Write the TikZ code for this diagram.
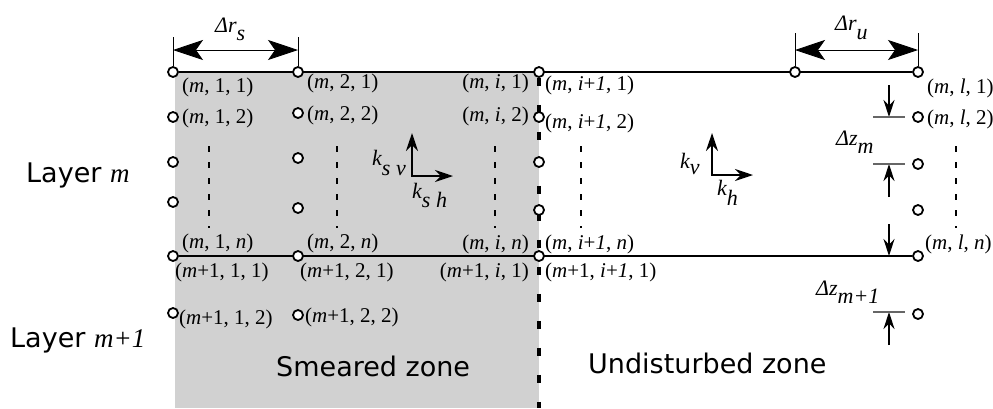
\documentclass[tikz,border=0pt]{standalone}
\usepackage{fontspec}
\setmainfont{Liberation Serif}
\newfontfamily\zonefont{DejaVu Sans}
\usetikzlibrary{arrows.meta, positioning, calc, backgrounds}

\newcommand{\mi}[1]{\textit{#1}}

\begin{document}
\begin{tikzpicture}[x=1pt, y=-1pt,
    gp/.style={circle, draw, fill=white, line width=1.8pt, minimum size=10pt, inner sep=0pt},
    lbl/.style={inner sep=0pt, font=\fontsize{21}{24}\selectfont},
    zone/.style={inner sep=0pt, anchor=base west, font=\fontsize{27}{32}\selectfont\zonefont},
    sym/.style={inner sep=0pt, anchor=base west, font=\fontsize{22}{24}\selectfont\itshape},
    bound/.style={line width=4pt, dash pattern=on 8pt off 19pt},
    vdots/.style={line width=2.2pt, dash pattern=on 6pt off 10pt},
    dimr/.style={line width=0.8pt, {Stealth[length=30pt, width=20pt, inset=7pt]}-{Stealth[length=30pt, width=20pt, inset=7pt]}},
    dimz/.style={line width=1.2pt, -{Stealth[length=17pt, width=11pt]}},
    ztick/.style={line width=1.5pt, black!60},
    kar/.style={line width=2.2pt, {Stealth[length=18pt, width=12pt]}-{Stealth[length=18pt, width=12pt]}}]
    \useasboundingbox (0,0) rectangle (993,408);

    \foreach \n/\x/\y in {a11/173/72, a12/173/117, a13/173/162, a14/173/202, a1n/173/256, b12/173/313,
        a21/298/72, a22/298/113, a23/298/158, a24/298/208, a2n/298/256, b22/298/315,
        ai1/539/72, ai2/539/117, ai3/539/162, ai4/539/210, ain/539/256,
        au/795/72,
        al1/918/72, al2/918/117, al3/918/164, al4/918/210, aln/918/256, bl2/918/314}
        \node[gp] (\n) at (\x,\y) {};

    \coordinate (zb) at (539,408);
    \begin{scope}[on background layer]
        \fill[black!18] (175,72) rectangle (zb);
        \draw[line width=2pt] (a11) -- (al1);
        \draw[line width=2pt] (a1n) -- (aln);
        \draw[bound] (ai1) -- (zb);
    \end{scope}

    \foreach \n/\x in {d1/209, d2/337, di/495, dj/581, dl/956} {
        \coordinate (\n-t) at (\x,146);
        \coordinate (\n-b) at (\x,228);
        \draw[vdots] (\n-t) -- (\n-b);
    }

    \node[lbl, anchor=west] (t11) at (182,87) {(\mi{m}, 1, 1)};
    \node[lbl, anchor=west] (t21) at (307,83) {(\mi{m}, 2, 1)};
    \node[lbl, anchor=east] (ti1) at (529,83) {(\mi{m}, \mi{i}, 1)};
    \node[lbl, anchor=west] (tj1) at (545,85) {(\mi{m}, \mi{i}+\mi{1}, 1)};
    \node[lbl, anchor=west] (tl1) at (927,88) {(\mi{m}, \mi{l}, 1)};
    \node[lbl, anchor=west] (t12) at (182,118) {(\mi{m}, 1, 2)};
    \node[lbl, anchor=west] (t22) at (307,115) {(\mi{m}, 2, 2)};
    \node[lbl, anchor=east] (ti2) at (529,116) {(\mi{m}, \mi{i}, 2)};
    \node[lbl, anchor=west] (tj2) at (545,123) {(\mi{m}, \mi{i}+\mi{1}, 2)};
    \node[lbl, anchor=west] (tl2) at (927,119) {(\mi{m}, \mi{l}, 2)};
    \node[lbl, anchor=west] (t1n) at (182,243) {(\mi{m}, 1, \mi{n})};
    \node[lbl, anchor=west] (t2n) at (307,243) {(\mi{m}, 2, \mi{n})};
    \node[lbl, anchor=east] (tin) at (529,244) {(\mi{m}, \mi{i}, \mi{n})};
    \node[lbl, anchor=west] (tjn) at (545,244) {(\mi{m}, \mi{i}+\mi{1}, \mi{n})};
    \node[lbl, anchor=west] (tln) at (925,244) {(\mi{m}, \mi{l}, \mi{n})};
    \node[lbl, anchor=west] (u11) at (175,272) {(\mi{m}+1, 1, 1)};
    \node[lbl, anchor=west] (u21) at (300,272) {(\mi{m}+1, 2, 1)};
    \node[lbl, anchor=east] (ui1) at (529,272) {(\mi{m}+1, \mi{i}, 1)};
    \node[lbl, anchor=west] (uj1) at (545,272) {(\mi{m}+1, \mi{i}+\mi{1}, 1)};
    \node[lbl, anchor=west] (u12) at (179,319) {(\mi{m}+1, 1, 2)};
    \node[lbl, anchor=west] (u22) at (305,317) {(\mi{m}+1, 2, 2)};

    \node[zone] (laym) at (26,182) {Layer {\fontsize{27}{32}\selectfont\rmfamily\itshape m}};
    \node[zone] (layn) at (10,347) {Layer {\fontsize{27}{32}\selectfont\rmfamily\itshape m+1}};
    \node[zone] (smear) at (276,376) {Smeared zone};
    \node[zone] (undist) at (588,373) {Undisturbed zone};

    \coordinate (rs1) at (173,37);
    \coordinate (rs2) at (298,37);
    \coordinate (rsa) at (173,50);
    \coordinate (rsb) at (298,50);
    \draw[line width=0.8pt] (a11) -- (rs1);
    \draw[line width=0.8pt] (a21) -- (rs2);
    \draw[dimr] (rsa) -- (rsb);
    \node[sym] (drs) at (215,32) {Δr\raisebox{-8pt}{s}};

    \coordinate (ru1) at (795,33);
    \coordinate (ru2) at (918,33);
    \coordinate (rua) at (795,50);
    \coordinate (rub) at (918,50);
    \draw[line width=0.8pt] (au) -- (ru1);
    \draw[line width=0.8pt] (al1) -- (ru2);
    \draw[dimr] (rua) -- (rub);
    \node[sym] (dru) at (835,30) {Δr\raisebox{-9pt}{u}};

    \coordinate (zt1) at (889,85);   \coordinate (zh1) at (889,117);
    \coordinate (zt2) at (889,197);  \coordinate (zh2) at (889,164);
    \coordinate (zt3) at (889,224);  \coordinate (zh3) at (889,256);
    \coordinate (zt4) at (889,345);  \coordinate (zh4) at (889,312);
    \draw[dimz] (zt1) -- (zh1);
    \draw[dimz] (zt2) -- (zh2);
    \draw[dimz] (zt3) -- (zh3);
    \draw[dimz] (zt4) -- (zh4);
    \draw[ztick] ($(zh1)+(-16,0)$) -- ($(zh1)+(16,0)$);
    \draw[ztick] ($(zh2)+(-16,0)$) -- ($(zh2)+(16,0)$);
    \draw[ztick] ($(zh4)+(-16,0)$) -- ($(zh4)+(16,0)$);
    \node[sym] (dzm) at (836,145) {Δz\raisebox{-8pt}{m}};
    \node[sym] (dzn) at (816,295) {Δz\raisebox{-8pt}{m+1}};

    \coordinate (ks0) at (412,176);
    \coordinate (ksv) at (412,133);
    \coordinate (ksh) at (453,176);
    \draw[kar] (ksv) -- (ks0) -- (ksh);
    \node[sym] (lksv) at (372,165) {k\raisebox{-10pt}{s v}};
    \node[sym] (lksh) at (412,198) {k\raisebox{-9pt}{s h}};

    \coordinate (ku0) at (712,175);
    \coordinate (kuv) at (712,133);
    \coordinate (kuh) at (753,175);
    \draw[kar] (kuv) -- (ku0) -- (kuh);
    \node[sym] (lkv) at (680,168) {k\raisebox{-6pt}{v}};
    \node[sym] (lkh) at (717,195) {k\raisebox{-10pt}{h}};
\end{tikzpicture}
\end{document}
